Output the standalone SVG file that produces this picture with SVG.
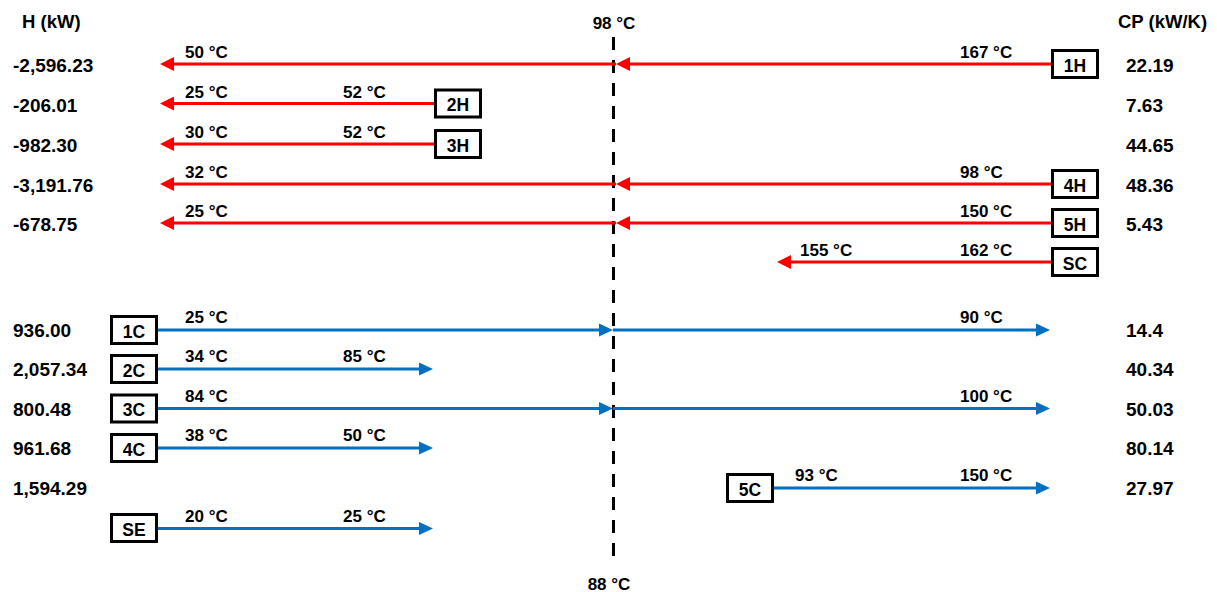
<svg xmlns="http://www.w3.org/2000/svg" width="1217" height="592" viewBox="0 0 1217 592">
  <style>
    text { font-family: "Liberation Sans", Arial, sans-serif; font-weight: bold; fill: #000; }
    .hdr { font-size: 18.5px; }
    .val { font-size: 19px; }
    .lbl { font-size: 17px; }
    .tag { font-size: 17.5px; text-anchor: middle; }
    .box { fill: #fff; stroke: #000; stroke-width: 3; }
    .hot { stroke: #FF0000; stroke-width: 3; fill: none; marker-end: url(#ah-hot); }
    .cold { stroke: #0070C0; stroke-width: 3; fill: none; marker-end: url(#ah-cold); }
    .pinch { stroke: #000; stroke-width: 3; stroke-dasharray: 13 10; }
  </style>
  <defs>
    <marker id="ah-hot" markerUnits="userSpaceOnUse" markerWidth="15" markerHeight="14" refX="6" refY="7" orient="auto">
      <path d="M0,0 L14,7 L0,14 z" fill="#FF0000"/>
    </marker>
    <marker id="ah-cold" markerUnits="userSpaceOnUse" markerWidth="15" markerHeight="14" refX="6" refY="7" orient="auto">
      <path d="M0,0.5 L14,7 L0,13.5 z" fill="#0070C0"/>
    </marker>
  </defs>

  <!-- column headers -->
  <text class="hdr" x="22" y="28">H (kW)</text>
  <text class="hdr" x="1118" y="28">CP (kW/K)</text>

  <!-- pinch line -->
  <g id="pinch">
    <line class="pinch" x1="613.5" y1="37" x2="613.5" y2="558"/>
    <text class="lbl" x="614" y="29" text-anchor="middle">98 °C</text>
    <text class="lbl" x="609" y="590" text-anchor="middle">88 °C</text>
  </g>

  <!-- stream arrows -->
  <g id="connectors">
    <!-- hot streams -->
    <line class="hot" x1="1051" y1="64" x2="624" y2="64"/>
    <line class="hot" x1="616" y1="64" x2="168" y2="64"/>
    <line class="hot" x1="434" y1="103.5" x2="168" y2="103.5"/>
    <line class="hot" x1="434" y1="144" x2="168" y2="144"/>
    <line class="hot" x1="1051" y1="184" x2="624" y2="184"/>
    <line class="hot" x1="616" y1="184" x2="168" y2="184"/>
    <line class="hot" x1="1051" y1="223" x2="624" y2="223"/>
    <line class="hot" x1="616" y1="223" x2="168" y2="223"/>
    <line class="hot" x1="1051" y1="262" x2="785" y2="262"/>
    <!-- cold streams -->
    <line class="cold" x1="158" y1="330" x2="605" y2="330"/>
    <line class="cold" x1="613" y1="330" x2="1042" y2="330"/>
    <line class="cold" x1="158" y1="369" x2="425" y2="369"/>
    <line class="cold" x1="158" y1="408.5" x2="605" y2="408.5"/>
    <line class="cold" x1="613" y1="408.5" x2="1042" y2="408.5"/>
    <line class="cold" x1="158" y1="448" x2="425" y2="448"/>
    <line class="cold" x1="774" y1="488" x2="1042" y2="488"/>
    <line class="cold" x1="158" y1="528.5" x2="425" y2="528.5"/>
  </g>

  <!-- hot stream 1H -->
  <g id="s1H">
    <rect class="box" x="1052.5" y="50.5" width="45" height="27"/>
    <text class="tag" x="1075" y="71.5">1H</text>
    <text class="lbl" x="185" y="58">50 °C</text>
    <text class="lbl" x="960" y="58">167 °C</text>
    <text class="val" x="13" y="72">-2,596.23</text>
    <text class="val" x="1126" y="72">22.19</text>
  </g>

  <!-- hot stream 2H -->
  <g id="s2H">
    <rect class="box" x="435.5" y="90" width="45" height="27"/>
    <text class="tag" x="458" y="111">2H</text>
    <text class="lbl" x="185" y="97.5">25 °C</text>
    <text class="lbl" x="343" y="97.5">52 °C</text>
    <text class="val" x="13" y="111.5">-206.01</text>
    <text class="val" x="1126" y="111.5">7.63</text>
  </g>

  <!-- hot stream 3H -->
  <g id="s3H">
    <rect class="box" x="435.5" y="130.5" width="45" height="27"/>
    <text class="tag" x="458" y="151.5">3H</text>
    <text class="lbl" x="185" y="138">30 °C</text>
    <text class="lbl" x="343" y="138">52 °C</text>
    <text class="val" x="13" y="152">-982.30</text>
    <text class="val" x="1126" y="152">44.65</text>
  </g>

  <!-- hot stream 4H -->
  <g id="s4H">
    <rect class="box" x="1052.5" y="170.5" width="45" height="27"/>
    <text class="tag" x="1075" y="191.5">4H</text>
    <text class="lbl" x="185" y="178">32 °C</text>
    <text class="lbl" x="960" y="178">98 °C</text>
    <text class="val" x="13" y="192">-3,191.76</text>
    <text class="val" x="1126" y="192">48.36</text>
  </g>

  <!-- hot stream 5H -->
  <g id="s5H">
    <rect class="box" x="1052.5" y="209.5" width="45" height="27"/>
    <text class="tag" x="1075" y="230.5">5H</text>
    <text class="lbl" x="185" y="217">25 °C</text>
    <text class="lbl" x="960" y="217">150 °C</text>
    <text class="val" x="13" y="231">-678.75</text>
    <text class="val" x="1126" y="231">5.43</text>
  </g>

  <!-- hot utility SC -->
  <g id="sSC">
    <rect class="box" x="1052.5" y="248.5" width="45" height="27"/>
    <text class="tag" x="1075" y="269.5">SC</text>
    <text class="lbl" x="800" y="256">155 °C</text>
    <text class="lbl" x="960" y="256">162 °C</text>
  </g>

  <!-- cold stream 1C -->
  <g id="s1C">
    <rect class="box" x="111.5" y="316.5" width="45" height="27"/>
    <text class="tag" x="134" y="337.5">1C</text>
    <text class="lbl" x="185" y="323">25 °C</text>
    <text class="lbl" x="960" y="323">90 °C</text>
    <text class="val" x="13" y="337">936.00</text>
    <text class="val" x="1126" y="337">14.4</text>
  </g>

  <!-- cold stream 2C -->
  <g id="s2C">
    <rect class="box" x="111.5" y="355.5" width="45" height="27"/>
    <text class="tag" x="134" y="376.5">2C</text>
    <text class="lbl" x="185" y="362">34 °C</text>
    <text class="lbl" x="343" y="362">85 °C</text>
    <text class="val" x="13" y="376">2,057.34</text>
    <text class="val" x="1126" y="376">40.34</text>
  </g>

  <!-- cold stream 3C -->
  <g id="s3C">
    <rect class="box" x="111.5" y="395" width="45" height="27"/>
    <text class="tag" x="134" y="416">3C</text>
    <text class="lbl" x="185" y="401.5">84 °C</text>
    <text class="lbl" x="960" y="401.5">100 °C</text>
    <text class="val" x="13" y="415.5">800.48</text>
    <text class="val" x="1126" y="415.5">50.03</text>
  </g>

  <!-- cold stream 4C -->
  <g id="s4C">
    <rect class="box" x="111.5" y="434.5" width="45" height="27"/>
    <text class="tag" x="134" y="455.5">4C</text>
    <text class="lbl" x="185" y="441">38 °C</text>
    <text class="lbl" x="343" y="441">50 °C</text>
    <text class="val" x="13" y="455">961.68</text>
    <text class="val" x="1126" y="455">80.14</text>
  </g>

  <!-- cold stream 5C -->
  <g id="s5C">
    <rect class="box" x="727.5" y="474.5" width="45" height="27"/>
    <text class="tag" x="750" y="495.5">5C</text>
    <text class="lbl" x="795" y="481">93 °C</text>
    <text class="lbl" x="960" y="481">150 °C</text>
    <text class="val" x="13" y="495">1,594.29</text>
    <text class="val" x="1126" y="495">27.97</text>
  </g>

  <!-- cold utility SE -->
  <g id="sSE">
    <rect class="box" x="111.5" y="514.5" width="45" height="27"/>
    <text class="tag" x="134" y="535.5">SE</text>
    <text class="lbl" x="185" y="521.5">20 °C</text>
    <text class="lbl" x="343" y="521.5">25 °C</text>
  </g>
</svg>
